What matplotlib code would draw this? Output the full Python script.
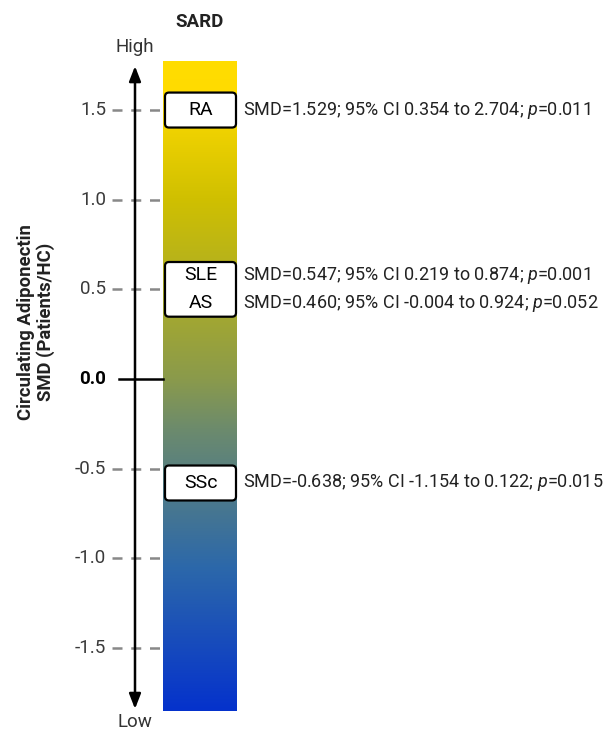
import matplotlib
matplotlib.use('Agg')
import matplotlib.pyplot as plt
from matplotlib.colors import LinearSegmentedColormap
from matplotlib.patches import FancyBboxPatch
import numpy as np

plt.rcParams['font.family'] = ['Roboto', 'DejaVu Sans']
plt.rcParams['mathtext.fontset'] = 'custom'
plt.rcParams['mathtext.it'] = 'Roboto:italic'
plt.rcParams['mathtext.rm'] = 'Roboto'

# data
groups = [['RA'], ['SLE', 'AS'], ['SSc']]
smd = [[1.529], [0.547, 0.460], [-0.638]]
ci_lo = [[0.354], [0.219, -0.004], [-1.154]]
ci_hi = [[2.704], [0.874, 0.924], [0.122]]
pvals = [['0.011'], ['0.001', '0.052'], ['0.015']]
box_centre = [1.5, 0.5, -0.58]
ticks = [-1.5, -1.0, -0.5, 0.0, 0.5, 1.0, 1.5]

fig = plt.figure(figsize=(6.03, 7.33), dpi=100)
ax = fig.add_axes([0, 0, 1, 1])
ax.set_xlim(0, 603)
ax.set_ylim(-354 / 179.3, 379 / 179.3)
ax.axis('off')

# gradient bar
cmap = LinearSegmentedColormap.from_list('sard', [
    (0.00, '#0532CC'), (0.22, '#2C68AA'), (0.43, '#6B8A6E'),
    (0.51, '#8A9A4C'), (0.79, '#D0C000'), (0.95, '#FFDB00'), (1.0, '#FFDD00')])
bar_top, bar_bot = 1.768, -1.852
grad = np.linspace(0, 1, 256).reshape(-1, 1)
ax.imshow(grad, cmap=cmap, origin='lower', aspect='auto',
          extent=[163, 237, bar_bot, bar_top], zorder=1)

# axis arrow
for tip in (1.745, -1.84):
    ax.annotate('', xy=(135, tip), xytext=(135, 0), zorder=3,
                arrowprops=dict(arrowstyle='-|>,head_width=0.35,head_length=0.9',
                                color='black', lw=1.8, shrinkA=0, shrinkB=0))
ax.text(135, (379 - 47) / 179.3, 'High', ha='center', va='center', fontsize=13.5, color='#333333')
ax.text(135, (379 - 722) / 179.3, 'Low', ha='center', va='center', fontsize=13.5, color='#333333')

for t in ticks:
    if t == 0:
        ax.plot([119, 163], [t, t], color='black', lw=1.8, zorder=2)
        ax.text(106, t, '0.0', ha='right', va='center', fontsize=13.5,
                fontweight='bold', color='black')
    else:
        ax.plot([112, 160], [t, t], color='#888888', lw=1.8,
                dashes=(4, 3.5), zorder=2)
        ax.text(106, t, f'{t:.1f}', ha='right', va='center', fontsize=13.5,
                color='#3a3a3a')

ax.text(200, (379 - 22) / 179.3, 'SARD', ha='center', va='center',
        fontsize=13.5, fontweight='bold', color='#222222')
ax.text(36, (379 - 322) / 179.3, 'Circulating Adiponectin\nSMD (Patients/HC)',
        ha='center', va='center', rotation=90, fontsize=13.3,
        fontweight='bold', color='#222222', linespacing=1.15)

# boxes and annotations
line_gap = 0.157
for names, s, lo, hi, p, yc in zip(groups, smd, ci_lo, ci_hi, pvals, box_centre):
    n = len(names)
    h = 0.195 if n == 1 else 0.305
    box = FancyBboxPatch((165, yc - h / 2), 71, h,
                         boxstyle='round,pad=0,rounding_size=4',
                         facecolor='white', edgecolor='black', lw=1.6,
                         mutation_aspect=1 / 179.3, zorder=4)
    ax.add_patch(box)
    for i in range(n):
        ty = yc + (n - 1) / 2 * line_gap - i * line_gap
        ax.text(201, ty, names[i], ha='center', va='center', fontsize=14,
                color='black', zorder=5)
        label = (f'SMD={s[i]:.3f}; 95% CI {lo[i]:.3f} to {hi[i]:.3f}; '
                 f'$\\mathit{{p}}$={p[i]}')
        ax.text(243, ty, label, ha='left', va='center', fontsize=13,
                color='#222222', zorder=5)

fig.savefig('out.png', dpi=100)
